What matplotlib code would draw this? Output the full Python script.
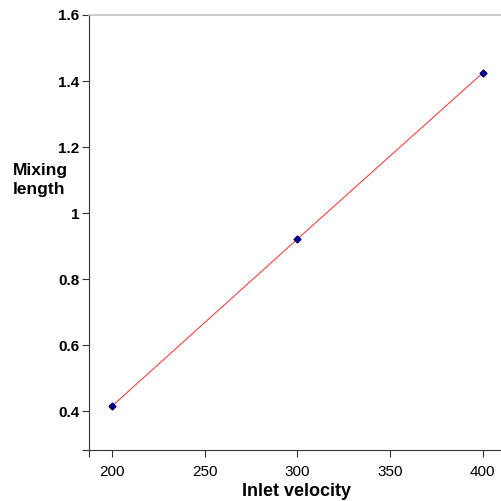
import numpy as np
import matplotlib.pyplot as plt

plt.rcParams['font.family'] = ['Liberation Sans', 'DejaVu Sans']

inlet_velocity = [200, 300, 400]
mixing_length = [0.415, 0.921, 1.424]
xticks = [200, 250, 300, 350, 400]
yticks = [0.4, 0.6, 0.8, 1.0, 1.2, 1.4, 1.6]
ytick_labels = ['0.4', '0.6', '0.8', '1', '1.2', '1.4', '1.6']

fig = plt.figure(figsize=(5.02, 5.01), dpi=100)
ax = fig.add_axes([89 / 502, 51 / 501, 413 / 502, 435 / 501])

ax.plot(inlet_velocity, mixing_length, color='#ff4040', linewidth=0.8, zorder=2)
ax.plot(inlet_velocity, mixing_length, linestyle='none', marker='D',
        markersize=3.5, color='#000080', zorder=3)

ax.set_xlim(187.6, 410.5)
ax.set_ylim(0.282, 1.6)
ax.set_xticks([187.6] + xticks)
ax.set_xticklabels([''] + [str(t) for t in xticks])
ax.set_yticks([0.282] + yticks)
ax.set_yticklabels([''] + ytick_labels)

ax.spines['right'].set_visible(False)
ax.spines['top'].set_color('#c0c0c0')
ax.spines['top'].set_linewidth(1.2)
ax.spines['left'].set_color('#333333')
ax.spines['bottom'].set_color('#333333')
ax.tick_params(direction='out', length=5, width=0.8, color='#333333',
               labelsize=11)
for lbl in ax.get_yticklabels():
    lbl.set_fontweight('bold')
ax.tick_params(axis='x', pad=6)
ax.tick_params(axis='y', pad=2)

fig.text(13 / 502, 1 - 180 / 501, 'Mixing\nlength', fontsize=12.5,
         fontweight='bold', ha='left', va='center', linespacing=1.4)
fig.text(297 / 502, 1 - 491 / 501, 'Inlet velocity', fontsize=13,
         fontweight='bold', ha='center', va='center')

plt.savefig('out.png', dpi=100)
